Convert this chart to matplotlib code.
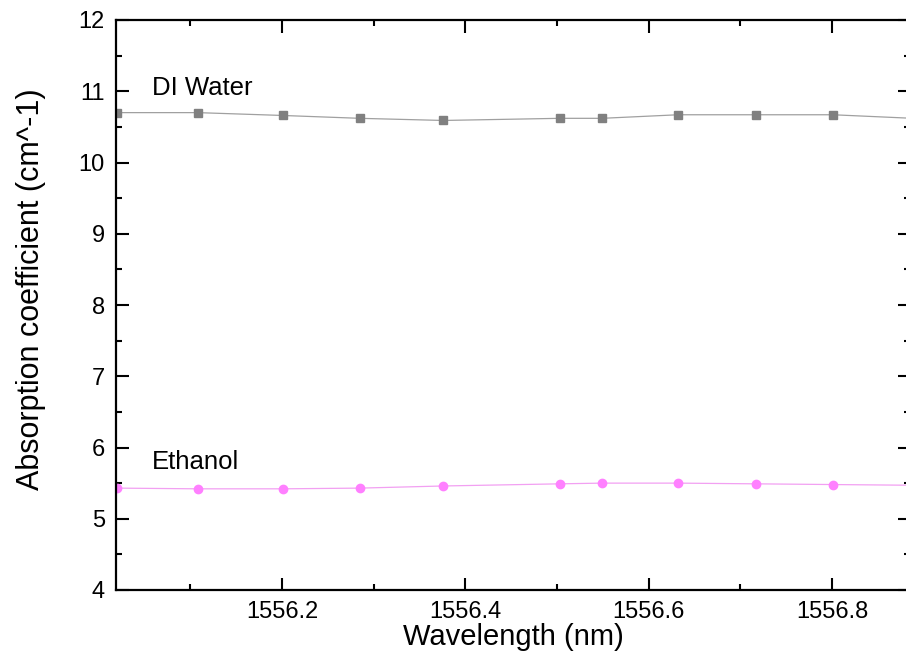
import matplotlib
matplotlib.use("Agg")
import matplotlib.pyplot as plt
from matplotlib.ticker import MultipleLocator

# Measured absorption coefficient vs wavelength
wavelength = [1556.020, 1556.108, 1556.201, 1556.285, 1556.376, 1556.503,
              1556.549, 1556.632, 1556.717, 1556.801, 1556.888]
di_water = [10.70, 10.70, 10.66, 10.62, 10.59, 10.62, 10.62, 10.67, 10.67, 10.67, 10.62]
ethanol = [5.43, 5.42, 5.42, 5.43, 5.46, 5.49, 5.50, 5.50, 5.49, 5.48, 5.47]

x_ticks = [1556.2, 1556.4, 1556.6, 1556.8]
y_ticks = [4, 5, 6, 7, 8, 9, 10, 11, 12]

plt.rcParams['font.family'] = ['Liberation Sans', 'DejaVu Sans']

fig = plt.figure(figsize=(9.06, 6.59), dpi=100)
ax = fig.add_axes([116 / 906, 69 / 659, (910 - 116) / 906, (590 - 20) / 659])

ax.plot(wavelength, di_water, color='#a0a0a0', lw=0.9, marker='s', ms=5.5,
        mfc='#808080', mec='#808080', clip_on=True)
ax.plot(wavelength, ethanol, color='#f2a0f2', lw=0.9, marker='o', ms=6,
        mfc='#ff80ff', mec='#ff80ff', clip_on=True)

ax.text(1556.058, 11.04, 'DI Water', fontsize=18.5, va='center', ha='left')
ax.text(1556.058, 5.80, 'Ethanol', fontsize=18.5, va='center', ha='left')

ax.set_xlim(1556.019, 1556.885)
ax.set_ylim(4, 12)
ax.set_xticks(x_ticks)
ax.set_xticklabels([f'{v:.1f}' for v in x_ticks])
ax.set_yticks(y_ticks)
ax.xaxis.set_minor_locator(MultipleLocator(0.1))
ax.yaxis.set_minor_locator(MultipleLocator(0.5))

ax.tick_params(which='both', direction='in', top=True, right=True,
               width=1.5, labelsize=17, pad=8)
ax.tick_params(which='major', length=9)
ax.tick_params(which='minor', length=4.5)
for s in ax.spines.values():
    s.set_linewidth(1.6)

ax.set_xlabel('Wavelength (nm)', fontsize=21, labelpad=0)
ax.set_ylabel('Absorption coefficient (cm^-1)', fontsize=22)
ax.yaxis.set_label_coords(-0.088, 0.527)

fig.savefig('out.png', dpi=100)
